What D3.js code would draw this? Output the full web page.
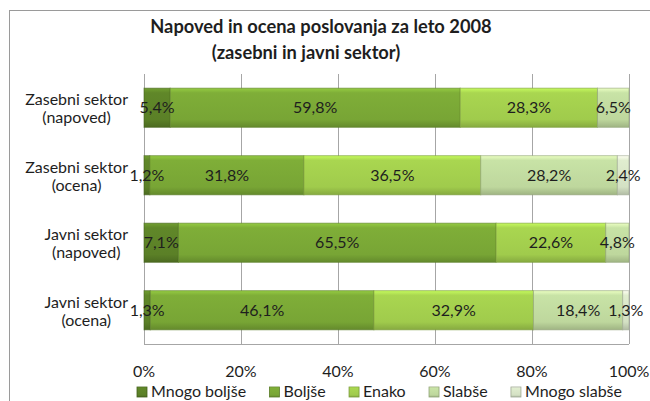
<!DOCTYPE html>
<meta charset="utf-8">
<script src="https://d3js.org/d3.v7.min.js"></script>
<style>
  body { margin: 0; background: #fff; }
  text { font-family: Lato, "Open Sans", sans-serif; fill: #1e1e1e; }
</style>
<body></body>
<script>

// categories (top to bottom), each label split in two lines
var categories = ["Zasebni sektor (napoved)", "Zasebni sektor (ocena)", "Javni sektor (napoved)", "Javni sektor (ocena)"];
var categoryLines = [["Zasebni sektor", "(napoved)"], ["Zasebni sektor", "(ocena)"], ["Javni sektor", "(napoved)"], ["Javni sektor", "(ocena)"]];

var seriesNames = ["Mnogo boljše", "Boljše", "Enako", "Slabše", "Mnogo slabše"];
var mnogoBoljse = [5.4, 1.2, 7.1, 1.3];
var boljse      = [59.8, 31.8, 65.5, 46.1];
var enako       = [28.3, 36.5, 22.6, 32.9];
var slabse      = [6.5, 28.2, 4.8, 18.4];
var mnogoSlabse = [0, 2.4, 0, 1.3];
var xTicks = [0, 0.2, 0.4, 0.6, 0.8, 1];

var colors = ["#5b8027", "#78a535", "#a0cb4c", "#bed79d", "#d4e1c4"];

var width = 650, height = 401;
var margin = {left: 144, right: 21, top: 74, bottom: 57};

var svg = d3.select("body").append("svg")
  .attr("width", width)
  .attr("height", height);

// gradients for the bevelled bars
var defs = svg.append("defs");
colors.forEach(function(c, i) {
  var g = defs.append("linearGradient")
    .attr("id", "grad" + i)
    .attr("x1", 0).attr("y1", 0).attr("x2", 0).attr("y2", 1);
  g.append("stop").attr("offset", "0%").attr("stop-color", d3.color(c).brighter(0.6));
  g.append("stop").attr("offset", "12%").attr("stop-color", d3.color(c).brighter(0.15));
  g.append("stop").attr("offset", "80%").attr("stop-color", c);
  g.append("stop").attr("offset", "100%").attr("stop-color", d3.color(c).darker(0.5));
});

// outer chart border
svg.append("rect")
  .attr("x", 9.5).attr("y", 10.5)
  .attr("width", 700).attr("height", 500)
  .attr("fill", "none")
  .attr("stroke", "#9a9a9a");

// title
svg.append("text")
  .attr("x", 321).attr("y", 33)
  .attr("text-anchor", "middle")
  .style("font-size", "18.3px").style("font-weight", "bold")
  .text("Napoved in ocena poslovanja za leto 2008");
svg.append("text")
  .attr("x", 306).attr("y", 59)
  .attr("text-anchor", "middle")
  .style("font-size", "18.3px").style("font-weight", "bold")
  .text("(zasebni in javni sektor)");

var xScale = d3.scaleLinear()
  .domain([0, 1])
  .range([margin.left, width - margin.right]);

var yScale = d3.scaleBand()
  .domain(categories)
  .range([margin.top, height - margin.bottom])
  .paddingInner(0.42)
  .paddingOuter(0.21);

// build stacked (100%) data
var table = categories.map(function(c, i) {
  var row = {category: c};
  var vals = [mnogoBoljse[i], boljse[i], enako[i], slabse[i], mnogoSlabse[i]];
  var total = d3.sum(vals);
  seriesNames.forEach(function(s, j) { row[s] = vals[j] / total; row[s + "_raw"] = vals[j]; });
  return row;
});
var stacked = d3.stack().keys(seriesNames)(table);

// gridlines
svg.append("g")
  .selectAll("line")
  .data(xTicks)
  .enter().append("line")
  .attr("x1", d => Math.round(xScale(d)) + 0.5)
  .attr("x2", d => Math.round(xScale(d)) + 0.5)
  .attr("y1", margin.top)
  .attr("y2", height - margin.bottom)
  .attr("stroke", "#a6a6a6");

// bottom line of plot area
svg.append("line")
  .attr("x1", xScale(0)).attr("x2", xScale(1))
  .attr("y1", height - margin.bottom + 0.5).attr("y2", height - margin.bottom + 0.5)
  .attr("stroke", "#a6a6a6");

// bars
var layers = svg.selectAll(".layer")
  .data(stacked)
  .enter().append("g")
  .attr("class", "layer");

layers.selectAll("rect")
  .data(function(d, i) { return d.map(function(p) { return {p: p, i: i}; }); })
  .enter().append("rect")
  .attr("x", d => xScale(d.p[0]))
  .attr("y", d => yScale(d.p.data.category))
  .attr("width", d => Math.max(0, xScale(d.p[1]) - xScale(d.p[0])))
  .attr("height", yScale.bandwidth())
  .attr("fill", d => "url(#grad" + d.i + ")")
  .attr("stroke", d => d3.color(colors[d.i]).darker(0.8))
  .attr("stroke-opacity", 0.6)
  .attr("stroke-width", 1);

// data labels (drawn on top of all bars)
var labelData = [];
stacked.forEach(function(layer) {
  layer.forEach(function(p) {
    if (p.data[layer.key + "_raw"] > 0) labelData.push({p: p, key: layer.key});
  });
});
svg.append("g")
  .selectAll("text")
  .data(labelData)
  .enter().append("text")
  .attr("x", d => (xScale(d.p[0]) + xScale(d.p[1])) / 2)
  .attr("y", d => yScale(d.p.data.category) + yScale.bandwidth() / 2 + 5.5)
  .attr("text-anchor", "middle")
  .style("font-size", "16px")
  .text(d => d.p.data[d.key + "_raw"].toFixed(1).replace(".", ",") + "%");

// category labels: block right-aligned, lines centred inside block
var labelRight = 128;
categories.forEach(function(c, i) {
  var g = svg.append("g");
  var lines = categoryLines[i];
  var texts = lines.map(function(l, k) {
    return g.append("text")
      .attr("y", yScale(c) + yScale.bandwidth() / 2 - 2.5 + k * 18)
      .attr("text-anchor", "middle")
      .style("font-size", "16px")
      .text(l);
  });
  var maxW = d3.max(texts, t => t.node().getComputedTextLength());
  texts.forEach(t => t.attr("x", labelRight - maxW / 2));
});

// x axis tick labels
svg.append("g")
  .selectAll("text")
  .data(xTicks)
  .enter().append("text")
  .attr("x", d => xScale(d))
  .attr("y", 377)
  .attr("text-anchor", "middle")
  .style("font-size", "16px")
  .text(d3.format(".0%"));

// legend
var legend = svg.append("g");
var items = [];
var textW = 0;
seriesNames.forEach(function(s, i) {
  var item = legend.append("g");
  item.append("rect")
    .attr("x", 0).attr("y", -10)
    .attr("width", 10).attr("height", 10)
    .attr("fill", "url(#grad" + i + ")")
    .attr("stroke", d3.color(colors[i]).darker(0.8))
    .attr("stroke-width", 0.8);
  var t = item.append("text")
    .attr("x", 14).attr("y", 0)
    .style("font-size", "16px")
    .text(s);
  var w = 14 + t.node().getComputedTextLength();
  textW += w;
  items.push({g: item, w: w});
});
var legendW = 485;
var gap = (legendW - textW) / (items.length - 1);
var lx = 0;
items.forEach(function(it) {
  it.g.attr("transform", "translate(" + lx + ",0)");
  lx += it.w + gap;
});
legend.attr("transform", "translate(137,397)");

</script>
